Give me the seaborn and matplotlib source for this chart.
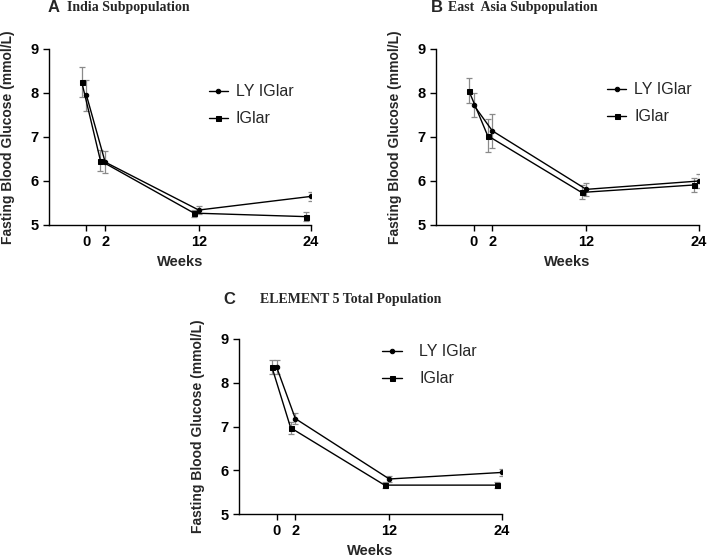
import numpy as np
import matplotlib
matplotlib.use("Agg")
import matplotlib.pyplot as plt
import seaborn as sns

# ============================================================
# DATA
# ============================================================
weeks = [0, 2, 12, 24]
week_ticks = [0, 2, 12, 24]

panel_titles = ["India Subpopulation", "East  Asia Subpopulation", "ELEMENT 5 Total Population"]
panel_letters = ["A", "B", "C"]

# India
india_ly = [7.95, 6.43, 5.34, 5.65]
india_ly_err = [0.35, 0.25, 0.10, 0.10]
india_ig = [8.25, 6.46, 5.27, 5.19]
india_ig_err = [0.34, 0.24, 0.08, 0.10]

# East Asia
asia_ly = [7.73, 7.14, 5.81, 6.00]
asia_ly_err = [0.28, 0.38, 0.15, 0.15]
asia_ig = [8.05, 7.03, 5.74, 5.91]
asia_ig_err = [0.28, 0.38, 0.16, 0.16]

# Total population
total_ly = [8.36, 7.18, 5.80, 5.95]
total_ly_err = [0.15, 0.13, 0.07, 0.08]
total_ig = [8.36, 6.97, 5.66, 5.66]
total_ig_err = [0.15, 0.13, 0.07, 0.07]

# ============================================================
# STYLE
# ============================================================
sns.set_style("ticks")
plt.rcParams["font.family"] = ["Liberation Sans", "DejaVu Sans"]

W, H = 708, 560
fig = plt.figure(figsize=(W / 100, H / 100), dpi=100)


def px_axes(left, top, right, bottom):
    return fig.add_axes([left / W, 1 - bottom / H, (right - left) / W, (bottom - top) / H])


def draw_panel(ax, ly, ly_err, ig, ig_err, leg_anchor, text_pad):
    x_ly = np.array(weeks, dtype=float)
    x_ig = x_ly - 0.5  # dodge IGlar slightly to the left

    # error bars first, underneath the lines
    ax.errorbar(x_ly, ly, yerr=ly_err, fmt="none", ecolor="#8a8a8a",
                elinewidth=0.9, capsize=2.2, capthick=0.9, zorder=1)
    ax.errorbar(x_ig, ig, yerr=ig_err, fmt="none", ecolor="#8a8a8a",
                elinewidth=0.9, capsize=2.2, capthick=0.9, zorder=1)

    sns.lineplot(x=x_ly, y=ly, ax=ax, color="black", linewidth=1,
                 marker="o", markersize=3.2, markeredgecolor="black",
                 label="LY IGlar", zorder=3)
    sns.lineplot(x=x_ig, y=ig, ax=ax, color="black", linewidth=1,
                 marker="s", markersize=3.6, markeredgecolor="black",
                 label="IGlar", zorder=3)

    ax.set_xlim(-4, 24)
    ax.set_ylim(5, 9)
    ax.set_xticks(week_ticks)
    ax.set_yticks([5, 6, 7, 8, 9])
    ax.tick_params(axis="both", labelsize=10.5, length=4, width=1, colors="black")
    for lab in ax.get_xticklabels() + ax.get_yticklabels():
        lab.set_fontweight("bold")
    for s in ["left", "bottom"]:
        ax.spines[s].set_linewidth(1)
        ax.spines[s].set_color("black")
    sns.despine(ax=ax)

    ax.set_xlabel("Weeks", fontsize=10.5, fontweight="bold", labelpad=4)
    ax.set_ylabel("Fasting Blood Glucose (mmol/L)", fontsize=10,
                  fontweight="bold", labelpad=11)

    ax.legend(loc="upper left", bbox_to_anchor=leg_anchor, frameon=False,
              fontsize=11.5, handlelength=1.2, handletextpad=text_pad,
              labelspacing=0.75, borderpad=0, borderaxespad=0)


ax_a = px_axes(49, 49, 311, 225)
ax_b = px_axes(436, 49, 699, 225)
ax_c = px_axes(239, 339, 502, 514)

draw_panel(ax_a, india_ly, india_ly_err, india_ig, india_ig_err, (0.61, 0.80), 0.5)
draw_panel(ax_b, asia_ly, asia_ly_err, asia_ig, asia_ig_err, (0.65, 0.81), 0.5)
draw_panel(ax_c, total_ly, total_ly_err, total_ig, total_ig_err, (0.545, 0.97), 1.1)

# panel titles: sans letter + serif title
title_pos = [(48, 67, 8), (431, 448, 8), (223, 260, 300)]
for (lx, tx, ty), letter, title in zip(title_pos, panel_letters, panel_titles):
    fig.text(lx / W, 1 - ty / H, letter, fontsize=12, fontweight="bold",
             va="center", ha="left", family="Liberation Sans")
    fig.text(tx / W, 1 - ty / H, title, fontsize=10, fontweight="bold",
             va="center", ha="left", family="Liberation Serif")

plt.savefig("out.png", dpi=100)
